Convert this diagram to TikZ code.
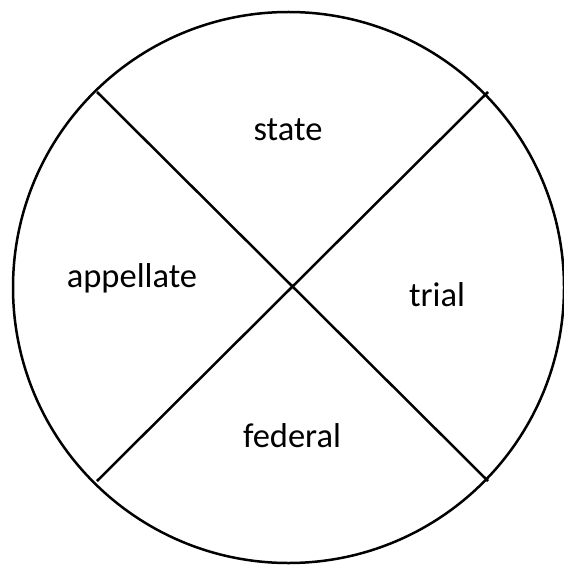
\documentclass[tikz,border=0pt]{standalone}
\usepackage{fontspec}
\setmainfont{Carlito}
\begin{document}
\begin{tikzpicture}[x=1bp,y=-1bp,
  ring/.style={draw=black,line width=2.5bp},
  divider/.style={draw=black,line width=2.5bp},
  lbl/.style={font=\fontsize{34.5bp}{40bp}\selectfont,text=black,inner sep=0pt}]
\useasboundingbox (0,0) rectangle (564,565);
\coordinate (c) at (288.5,287.5);
\draw[ring] (c) circle[radius=275.5];
\coordinate (tl) at (97,92);
\coordinate (br) at (488,481);
\coordinate (tr) at (488,92);
\coordinate (bl) at (97,481);
\draw[divider] (tl) -- (br);
\draw[divider] (tr) -- (bl);
\node[lbl] (state) at (288,130) {state};
\node[lbl] (appellate) at (132,278) {appellate};
\node[lbl] (trial) at (437,295) {trial};
\node[lbl] (federal) at (292,436) {federal};
\end{tikzpicture}
\end{document}
